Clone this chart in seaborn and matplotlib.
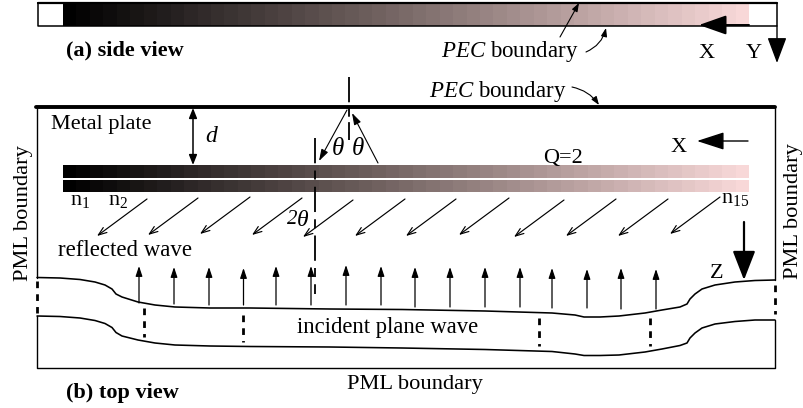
import numpy as np
import seaborn as sns
import matplotlib
matplotlib.use("Agg")
import matplotlib.pyplot as plt
from matplotlib.colors import LinearSegmentedColormap

sns.set_theme(style="white")
plt.rcParams['font.family'] = ['Liberation Serif', 'DejaVu Serif']
plt.rcParams['mathtext.fontset'] = 'custom'
plt.rcParams['mathtext.rm'] = 'Liberation Serif'
plt.rcParams['mathtext.it'] = 'Liberation Serif:italic'

# gradient shade of each cell, left to right
shades = [0.00, 0.02, 0.04, 0.06, 0.08, 0.10, 0.12, 0.14, 0.16, 0.18,
          0.20, 0.22, 0.24, 0.26, 0.28, 0.30, 0.32, 0.34, 0.36, 0.38,
          0.40, 0.42, 0.44, 0.46, 0.48, 0.50, 0.52, 0.54, 0.56, 0.58,
          0.60, 0.62, 0.64, 0.66, 0.68, 0.70, 0.72, 0.74, 0.76, 0.78,
          0.80, 0.82, 0.84, 0.86, 0.88, 0.90, 0.92, 0.94, 0.96, 0.98, 1.00]

# incident wave fronts, in picture pixels
wave_x = [37, 60, 80, 95, 105, 112, 116, 122, 138, 155, 175, 210, 250, 330, 402, 485, 552,
          575, 584, 600, 619, 645, 662, 680, 687, 690, 695, 702, 715, 735, 755, 775]
wave_upper = [277.5, 278, 279.5, 282, 285, 289, 294, 297, 302, 305, 307, 308, 308, 309, 309.5, 311, 313,
              315, 317, 317, 316, 313, 310, 307, 304, 299, 294, 289, 285, 282, 280.5, 280]
wave_lower = [316, 316.5, 318, 320.5, 323.5, 327.5, 332.5, 336, 340, 343, 345, 346, 346.5, 347, 348, 349.5, 351.5,
              354, 355.5, 355.5, 355, 352, 349, 345.5, 343, 338, 333, 328, 324, 321.5, 320, 320]

# arrow positions
incident_x = [139, 174, 209, 243.5, 276, 311, 346, 381, 415, 450, 485, 520, 552, 587, 621, 656]
incident_top = [266, 267, 267, 268, 266, 266, 265, 266, 267, 267, 267, 267, 268, 269, 268, 269]
incident_bottom = [303, 304, 305, 305, 305, 305, 305, 305, 307, 307, 307, 307, 308, 308, 309, 309]
reflected_x = [97, 148, 200, 252, 303, 355, 406, 459, 514, 566, 618, 670]
reflected_y = [236, 235, 234, 235, 237, 236, 236, 235, 237, 236, 236, 234]
dotted_x = [144, 243.5, 539, 650]
dotted_top = [308, 315, 318, 318]
dotted_bottom = [337, 342, 346, 346]

fig = plt.figure(figsize=(8.04, 4.08), dpi=100)
ax = fig.add_axes([0, 0, 1, 1], zorder=5)
ax.axis("off")

cmap = LinearSegmentedColormap.from_list("plate", ["#000000", "#7a6a68", "#f8d8d8"])


def strip(x0, y0, x1, y1):
    hax = fig.add_axes([x0 / 804, 1 - y1 / 408, (x1 - x0) / 804, (y1 - y0) / 408], zorder=1)
    sns.heatmap(np.array([shades]), cmap=cmap, vmin=0, vmax=1, cbar=False,
                xticklabels=False, yticklabels=False, ax=hax)
    hax.axis("off")


def line(xs, ys, lw=1.0, **kw):
    sns.lineplot(x=xs, y=ys, color="black", linewidth=lw, sort=False, estimator=None,
                 errorbar=None, ax=ax, **kw)


def arrow(tip, tail, style="-|>,head_length=5,head_width=1.8", lw=0.8, conn=None, scale=1):
    ax.annotate("", xy=tip, xytext=tail,
                arrowprops=dict(arrowstyle=style, lw=lw, color="black", shrinkA=0, shrinkB=0,
                                mutation_scale=scale, connectionstyle=conn))


def label(x, y, s, size=16, **kw):
    kw.setdefault("ha", "center")
    ax.text(x, y, s, fontsize=size, va="center", color="black", **kw)


strip(63, 4, 749, 26)
strip(63, 165, 749, 178)
strip(63, 180, 749, 192)

# side view
line([38, 777, 777, 38, 38], [3, 3, 26, 26, 3], lw=1.1)
line([38, 777], [3, 3], lw=1.6)
big = "-|>,head_length=17,head_width=6"
arrow((699, 25), (749, 25), style=big, lw=1.4)
arrow((777, 63), (777, 26), style="-|>,head_length=16,head_width=6", lw=1.0)
arrow((579, 3), (560, 37))
arrow((606, 28), (586, 52), conn="arc3,rad=0.25")
label(510, 52, r"$\mathit{PEC}$ boundary", size=16.5)
label(707, 53, "X")
label(754, 53, "Y")
label(125, 50, "(a) side view", weight="bold", size=16)

# top view frame
line([36, 775], [107, 107], lw=2.8)
line([37, 37], [107, 277.5])
line([775, 775], [107, 280])
line([37, 37, 775, 775], [316, 368, 368, 320])
line(wave_x, wave_upper, lw=1.15)
line(wave_x, wave_lower, lw=1.15)

# dotted cuts through the wave
dot_style = (0, (2.4, 2.2))
for x, t, b in zip(dotted_x, dotted_top, dotted_bottom):
    line([x, x], [t, b], lw=2.0, linestyle=dot_style)
line([37, 37], [281, 313], lw=2.0, linestyle=dot_style)
line([775, 775], [285, 314], lw=2.0, linestyle=dot_style)

# waves
for x, t, b in zip(incident_x, incident_top, incident_bottom):
    arrow((x, t), (x, b), style="-|>,head_length=6,head_width=2", lw=0.9)
for x, y in zip(reflected_x, reflected_y):
    arrow((x, y), (x + 50, y - 37), style="->,head_length=6,head_width=2.2", lw=0.85)

# normals and angles
line([349, 349], [77, 140], lw=1.3, linestyle=(0, (14, 3, 5, 3)))
line([315, 315], [138, 294], lw=1.3, linestyle=(0, (14, 4, 5, 4)))
arrow((319, 161), (347, 110), style="-|>,head_length=7,head_width=2.2", lw=0.8)
arrow((352, 113), (378, 163), style="-|>,head_length=7,head_width=2.2", lw=0.8)
ax.annotate("", xy=(193, 108), xytext=(193, 165),
            arrowprops=dict(arrowstyle="<|-|>,head_length=6,head_width=2.4", lw=1.1, color="black",
                            shrinkA=0, shrinkB=0, mutation_scale=1))
arrow((599, 105), (572, 87), conn="arc3,rad=-0.2")
arrow((697, 141), (748, 141), style="-|>,head_length=17,head_width=5.5", lw=1.0)
arrow((744, 280), (744, 222), style="-|>,head_length=18,head_width=7", lw=1.6)

# labels
label(101, 124, "Metal plate")
label(211, 137, "d", style="italic", size=17)
label(338, 149, "θ", style="italic", size=18)
label(358, 149, "θ", style="italic", size=18)
label(297, 220, "2", style="italic", size=15, ha="right")
label(297, 220, "θ", style="italic", size=17, ha="left")
label(498, 92, r"$\mathit{PEC}$ boundary", size=16.5)
label(679, 148, "X")
label(563, 158, "Q=2")
label(80, 200, r"n$_{1}$", size=16)
label(118, 200, r"n$_{2}$", size=16)
label(735, 199, r"n$_{15}$", size=16)
label(125, 250, "reflected wave", size=16.5)
label(717, 273, "Z")
label(388, 328, "incident plane wave", size=16.3)
label(415, 385, "PML boundary", size=16.2)
label(122, 393, "(b) top view", weight="bold", size=16)
label(24, 213, "PML boundary", size=16.2, rotation=90)
label(794, 211, "PML boundary", size=16.2, rotation=90)

ax.set_xlim(0, 804)
ax.set_ylim(408, 0)
ax.axis("off")
fig.savefig("out.png", dpi=100)
